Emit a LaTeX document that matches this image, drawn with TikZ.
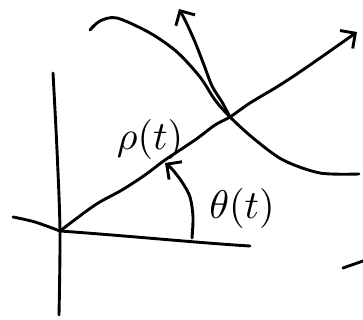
\documentclass[tikz,border=0pt]{standalone}
\usetikzlibrary{arrows.meta}
\begin{document}
\begin{tikzpicture}[x=1pt,y=-1pt,
  pen/.style={line width=2.9pt,line cap=round,line join=round},
  tip/.style={-{Straight Barb[length=11pt,width=22pt,line width=2.9pt]}},
  lbl/.style={scale=4}]
\useasboundingbox (0,0) rectangle (363,320);
\coordinate (O) at (60,231);
\coordinate (P) at (230,117);
% vertical axis
\draw[pen] plot[smooth] coordinates {(53,73) (57,150) (60,231) (59,315)};
% horizontal axis
\draw[pen] plot[smooth] coordinates {(13,217) (35,222) (O)};
\draw[pen] (O) .. controls (130,236) and (200,243) .. (250,246);
% ray
\draw[pen,tip] plot[smooth] coordinates {(O) (95,205) (122,190) (145,175) (165,160) (195,140) (215,125) (P) (250,103) (280,85) (310,65) (357,32)};
% curve
\draw[pen] plot[smooth] coordinates {(90,30) (100,21) (117,18) (150,33) (177,52) (200,77) (215,100) (P) (253,138) (283,160) (320,173) (359,174)};
% tangent
\draw[pen,tip] plot[smooth] coordinates {(P) (222,102) (212,86) (204,65) (195,42) (186,22) (179,9)};
% angle arrow
\draw[pen,tip] plot[smooth] coordinates {(192,238) (193,217) (190,197) (182,182) (172,169) (165,163)};
% stray stroke
\coordinate (s1) at (343,268);
\coordinate (s2) at (363,261);
\draw[pen] (s1) -- (s2);
% labels
\node[lbl] (rho) at (150,140) {$\rho(t)$};
\node[lbl] (theta) at (242,208) {$\theta(t)$};
\end{tikzpicture}
\end{document}
